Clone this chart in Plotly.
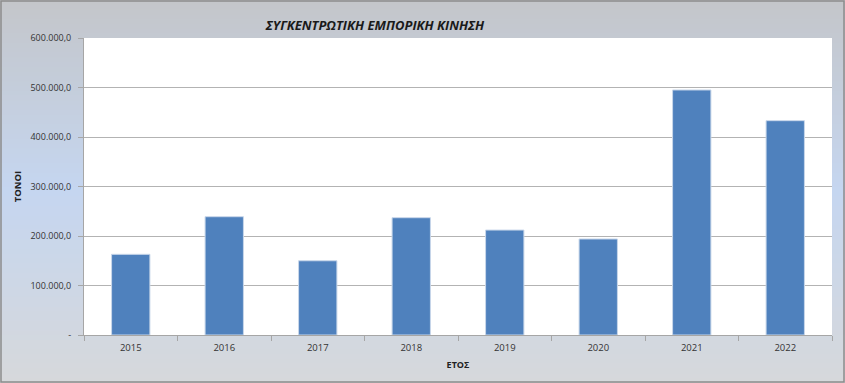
import plotly.graph_objects as go

years = ["2015", "2016", "2017", "2018", "2019", "2020", "2021", "2022"]
tonnes = [163000, 239000, 150000, 237000, 212000, 194000, 495000, 433000]
y_tickvals = [0, 100000, 200000, 300000, 400000, 500000, 600000]
y_ticktext = ["-", "100.000,0", "200.000,0", "300.000,0", "400.000,0", "500.000,0", "600.000,0"]

L, R, T, B = 84, 13, 38, 48
W, H = 845, 383
pw, ph = W - L - R, H - T - B

fig = go.Figure()
fig.add_trace(go.Bar(
    x=years, y=tonnes,
    marker=dict(color="#4f81bd", line=dict(color="#c9d7ea", width=1)),
    width=0.41,
))

def lerp(c1, c2, t):
    return tuple(round(a + (b - a) * t) for a, b in zip(c1, c2))

top = (196, 198, 202)
mid = (197, 214, 240)
bot = (214, 216, 219)
n = 80
shapes = []
y_lo = -B / ph
y_hi = 1 + T / ph
span = y_hi - y_lo
for i in range(n):
    t = i / (n - 1)
    if t < 0.5:
        c = lerp(top, mid, t / 0.5)
    else:
        c = lerp(mid, bot, (t - 0.5) / 0.5)
    y1 = y_hi - span * i / n
    y0 = y_hi - span * (i + 1.6) / n
    shapes.append(dict(type="rect", xref="paper", yref="paper", x0=-L / pw - 0.01, x1=1 + R / pw + 0.01,
                       y0=y0, y1=y1,
                       fillcolor="rgb(%d,%d,%d)" % c, line=dict(width=0), layer="below"))
# white plot area
shapes.append(dict(type="rect", xref="paper", yref="paper", x0=0, x1=1, y0=0, y1=1,
                   fillcolor="white", line=dict(width=0), layer="below"))
# outer border
shapes.append(dict(type="rect", xref="paper", yref="paper", x0=-(L - 1) / pw, x1=1 + (R - 1) / pw,
                   y0=-(B - 1) / ph, y1=1 + (T - 1) / ph, line=dict(color="#8c8c8c", width=1.5), layer="above"))

fig.update_layout(
    width=W, height=H,
    margin=dict(l=L, r=R, t=T, b=B, autoexpand=False),
    paper_bgcolor="#cfd3da",
    plot_bgcolor="white",
    shapes=shapes,
    showlegend=False,
    bargap=0.59,
    font=dict(family="Open Sans, Liberation Sans, sans-serif", color="#333333"),
    title=dict(text="<b><i>ΣΥΓΚΕΝΤΡΩΤΙΚΗ ΕΜΠΟΡΙΚΗ ΚΙΝΗΣΗ</i></b>", x=375 / W, xanchor="center",
               y=1 - 25 / H, yanchor="middle",
               font=dict(size=13, family="Liberation Sans Narrow, Open Sans, sans-serif", color="#1a1a1a")),
    xaxis=dict(
        automargin=False,
        showgrid=False, showline=True, linecolor="#a6a6a6", ticks="outside", tickson="boundaries",
        ticklen=5, tickcolor="#a6a6a6", tickfont=dict(size=9.5, color="#333333"),
        ticklabelstandoff=4,
        title=dict(text="<b>ΕΤΟΣ</b>", font=dict(size=9, color="#222222"), standoff=8),
    ),
    yaxis=dict(
        automargin=False,
        range=[0, 600000], tickvals=y_tickvals, ticktext=y_ticktext,
        showgrid=True, gridcolor="#b3b3b3", gridwidth=1, showline=True, linecolor="#a6a6a6",
        ticks="outside", ticklen=5, tickcolor="#a6a6a6", tickfont=dict(size=9, color="#333333"),
        ticklabelstandoff=5,
        zeroline=False,
        title=dict(text="<b>TONOI</b>", font=dict(size=9.5, color="#222222"), standoff=7),
    ),
)

fig.write_html("out.html", config={"displayModeBar": False},
               post_script="document.body.style.margin='0';document.body.style.overflow='hidden';")
